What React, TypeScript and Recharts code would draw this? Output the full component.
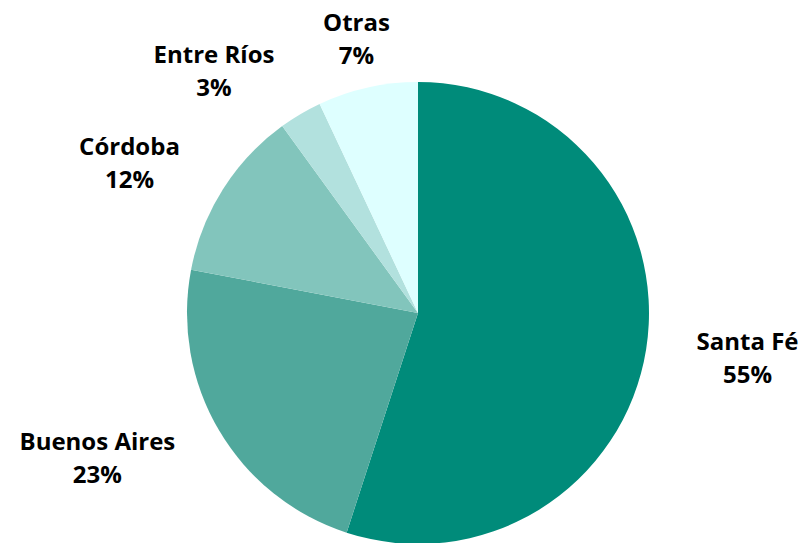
import React from 'react';
import { PieChart, Pie, Cell } from 'recharts';

const provinces = ['Santa Fé', 'Buenos Aires', 'Córdoba', 'Entre Ríos', 'Otras'];
const shares = [55, 23, 12, 3, 7];
const sliceColors = ['#008B7A', '#50A89C', '#82C5BC', '#B2E1DE', '#DEFFFF'];

const data = provinces.map((name, i) => ({ name, value: shares[i] }));

const FONT_SIZE = 24;
const FONT_FAMILY = "'Open Sans', sans-serif";

let ctx: CanvasRenderingContext2D | null = null;
function measure(text: string): number {
  if (!ctx) {
    ctx = document.createElement('canvas').getContext('2d');
  }
  if (!ctx) return text.length * FONT_SIZE * 0.6;
  ctx.font = `bold ${FONT_SIZE}px ${FONT_FAMILY}`;
  return ctx.measureText(text).width;
}

const renderLabel = (props: any) => {
  const { cx, cy, midAngle, outerRadius, name, value } = props;
  const RAD = Math.PI / 180;
  const r = outerRadius + 51;
  const cos = Math.cos(-midAngle * RAD);
  const sin = Math.sin(-midAngle * RAD);
  const x0 = cx + r * cos;
  const y0 = cy + r * sin;
  const pct = `${value}%`;
  const hw = Math.max(measure(name), measure(pct)) / 2;
  const x = Math.abs(cos) >= 0.3 ? x0 + Math.sign(cos) * hw : x0;
  const half = 16.5;
  return (
    <text
      x={x}
      y={y0}
      textAnchor="middle"
      fill="#000"
      style={{ fontFamily: FONT_FAMILY, fontWeight: 700, fontSize: FONT_SIZE }}
    >
      <tspan x={x} y={y0 - half} dominantBaseline="central">{name}</tspan>
      <tspan x={x} y={y0 + half} dominantBaseline="central">{pct}</tspan>
    </text>
  );
};

export default function App() {
  return (
    <div style={{ position: 'absolute', left: 0, top: 0, width: 801, height: 543, background: '#fff' }}>
      <PieChart width={801} height={543} margin={{ top: 0, right: 0, bottom: 0, left: 0 }}>
        <Pie
          data={data}
          dataKey="value"
          nameKey="name"
          cx={418}
          cy={313}
          outerRadius={231}
          startAngle={90}
          endAngle={-270}
          stroke="none"
          label={renderLabel}
          labelLine={false}
          isAnimationActive={false}
        >
          {data.map((d, i) => (
            <Cell key={d.name} fill={sliceColors[i]} />
          ))}
        </Pie>
      </PieChart>
    </div>
  );
}
